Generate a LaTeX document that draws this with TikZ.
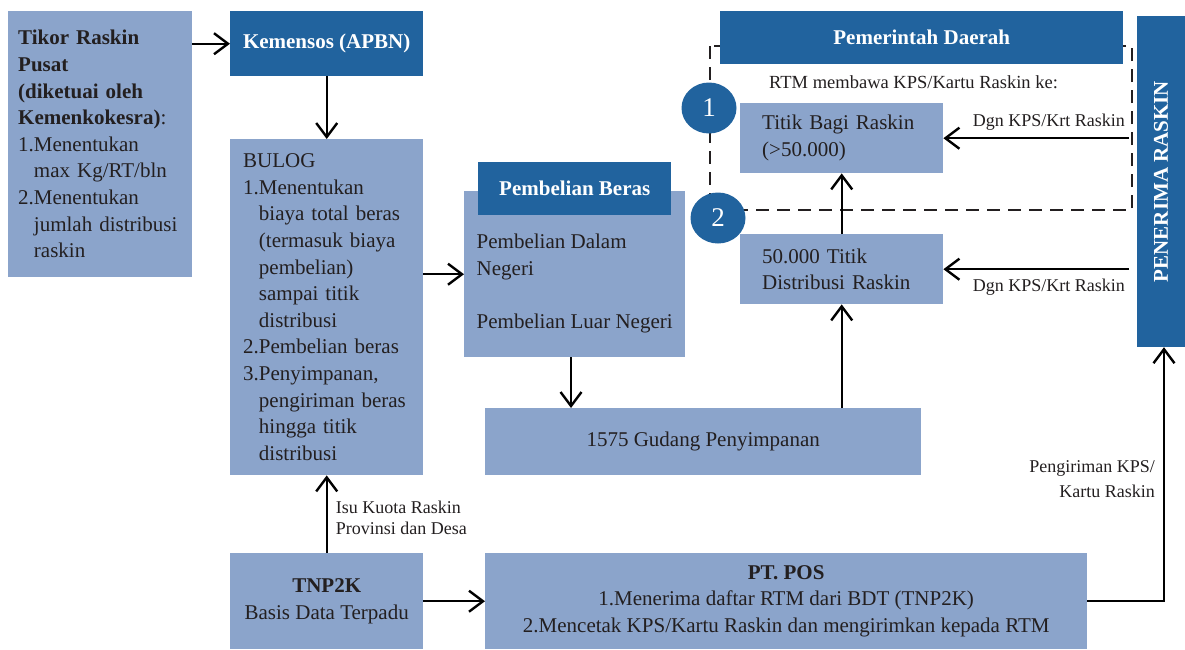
\documentclass[tikz,border=0pt]{standalone}
\usepackage{fontspec}
\setmainfont{Liberation Serif}
\usetikzlibrary{arrows.meta,shapes.geometric}
\definecolor{lightb}{RGB}{139,164,203}
\definecolor{darkb}{RGB}{33,99,158}
\definecolor{ink}{RGB}{35,31,32}
\newcommand{\ind}{\phantom{1.}}
\newcommand{\mainfont}{\fontsize{21}{26.6}\selectfont}
\newcommand{\smallfont}{\fontsize{18}{21}\selectfont}
\begin{document}
\begin{tikzpicture}[x=1pt,y=-1pt,
  box/.style={fill=lightb,text=ink,anchor=north west,inner sep=0pt,font=\mainfont},
  head/.style={fill=darkb,text=white,anchor=north west,inner sep=0pt,font=\mainfont\bfseries},
  num/.style={ellipse,fill=darkb,text=white,minimum width=55pt,minimum height=51pt,inner sep=0pt,font=\fontsize{27}{28}\selectfont},
  arr/.style={-{Straight Barb[length=14pt,width=21pt]},line width=2.4pt},
  lab/.style={text=ink,font=\smallfont}]
  \useasboundingbox (0,0) rectangle (1185,649);
  \draw[line width=2.4pt,dash pattern=on 13pt off 8pt,ink] (710,46) rectangle (1132,210);
  \node[box,minimum width=184pt,minimum height=266pt,text width=164pt,inner xsep=10pt,align=left] (tikor) at (8,11)
    {\textbf{Tikor Raskin}\\\textbf{Pusat}\\\textbf{(diketuai oleh}\\\textbf{Kemenkokesra)}:\\
     1.Menentukan\\\ind max Kg/RT/bln\\2.Menentukan\\\ind jumlah distribusi\\\ind raskin};
  \node[head,minimum width=193pt,minimum height=65pt] (kemensos) at (230,11) {Kemensos (APBN)};
  \node[box,minimum width=193pt,minimum height=336pt,text width=167pt,inner xsep=13pt,align=left] (bulog) at (230,139)
    {BULOG\\1.Menentukan\\\ind biaya total beras\\\ind (termasuk biaya\\\ind pembelian)\\\ind sampai titik\\\ind distribusi\\
     2.Pembelian beras\\3.Penyimpanan,\\\ind pengiriman beras\\\ind hingga titik\\\ind distribusi};
  \node[box,minimum width=221pt,minimum height=166pt,align=left] (beli) at (464,191)
    {\rule{0pt}{33pt}Pembelian Dalam\\Negeri\\[26.6pt]Pembelian Luar Negeri};
  \node[head,minimum width=193pt,minimum height=53pt] (belihead) at (478,162) {Pembelian Beras};
  \node[box,minimum width=436pt,minimum height=67pt] (gudang) at (485,408) {1575 Gudang Penyimpanan};
  \node[box,minimum width=193pt,minimum height=96pt,align=center] (tnp) at (230,553)
    {\textbf{TNP2K}\\Basis Data Terpadu};
  \node[box,minimum width=602pt,minimum height=96pt,align=center] (pos) at (485,553)
    {\textbf{PT. POS}\\1.Menerima daftar RTM dari BDT (TNP2K)\\2.Mencetak KPS/Kartu Raskin dan mengirimkan kepada RTM};
  \node[head,minimum width=403pt,minimum height=53pt] (pemda) at (720,11) {Pemerintah Daerah};
  \node[text=ink,anchor=west,inner sep=0pt,font=\fontsize{18.5}{22}\selectfont] (rtm) at (769,82) {RTM membawa KPS/Kartu Raskin ke:};
  \node[box,minimum width=203pt,minimum height=70pt,text width=159pt,inner xsep=22pt,align=left] (titik) at (740,103)
    {Titik Bagi Raskin\\(>50.000)};
  \node[box,minimum width=203pt,minimum height=70pt,text width=159pt,inner xsep=22pt,align=left] (dist) at (740,234)
    {50.000 Titik\\Distribusi Raskin};
  \node[num] (n1) at (709,108) {1};
  \node[num] (n2) at (718,218) {2};
  \node[head,anchor=center,minimum width=331pt,minimum height=48pt,rotate=90] (penerima) at (1161,181.5) {PENERIMA RASKIN};
  \coordinate (p1) at (1129,0 |- titik.east);
  \coordinate (p2) at (1129,0 |- dist.east);
  \draw[arr] (tikor.east |- kemensos.west) -- (kemensos.west);
  \draw[arr] (kemensos.south) -- (bulog.north);
  \draw[arr] (bulog.east |- beli.west) -- (beli.west);
  \draw[arr] (beli.south -| 571,0) -- (571,0 |- gudang.north);
  \draw[arr] (dist.south |- gudang.north) -- (dist.south);
  \draw[arr] (dist.north) -- (titik.south);
  \draw[arr] (p1) -- node[lab,pos=0,above left,inner sep=3pt,yshift=4pt] {Dgn KPS/Krt Raskin} (titik.east);
  \draw[arr] (p2) -- node[lab,pos=0,below left,inner sep=3pt,yshift=-6pt] {Dgn KPS/Krt Raskin} (dist.east);
  \draw[arr] (tnp.north) -- node[lab,right,align=left,inner sep=8pt,yshift=-4pt] {Isu Kuota Raskin\\Provinsi dan Desa} (bulog.south);
  \draw[arr] (tnp.east) -- (pos.west);
  \draw[arr] (pos.east) -| node[lab,pos=0.74,left,align=right,inner sep=8pt,font=\fontsize{18}{25}\selectfont] {Pengiriman KPS/\\Kartu Raskin} ([xshift=3pt]penerima.west);
\end{tikzpicture}
\end{document}
